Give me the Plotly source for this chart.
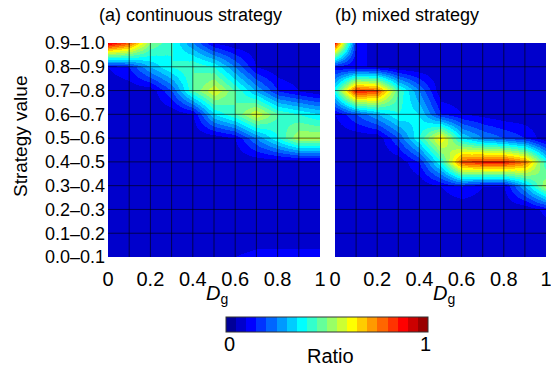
import plotly.graph_objects as go

# ---------------- data ----------------
dg = [0.0, 0.1, 0.2, 0.3, 0.4, 0.5, 0.6, 0.7, 0.8, 0.9, 1.0]
strategy_labels = ["0.0–0.1", "0.1–0.2", "0.2–0.3", "0.3–0.4", "0.4–0.5",
                   "0.5–0.6", "0.6–0.7", "0.7–0.8", "0.8–0.9", "0.9–1.0"]
x_tickvals = [0, 0.2, 0.4, 0.6, 0.8, 1.0]
x_ticktext = ["0", "0.2", "0.4", "0.6", "0.8", "1"]
cbar_ticks = [0, 1]
cbar_ticktext = ["0", "1"]

# rows: bottom (0.0–0.1) to top (0.9–1.0); columns: Dg = 0 ... 1
ratio_continuous = [
    [0.06, 0.06, 0.06, 0.06, 0.06, 0.07, 0.10, 0.12, 0.12, 0.12, 0.12],
    [0.06, 0.06, 0.06, 0.06, 0.06, 0.06, 0.06, 0.06, 0.06, 0.06, 0.06],
    [0.06, 0.06, 0.06, 0.06, 0.06, 0.06, 0.06, 0.06, 0.06, 0.06, 0.06],
    [0.06, 0.06, 0.06, 0.06, 0.06, 0.06, 0.06, 0.06, 0.06, 0.06, 0.06],
    [0.06, 0.06, 0.06, 0.06, 0.06, 0.06, 0.06, 0.06, 0.06, 0.06, 0.06],
    [0.06, 0.06, 0.06, 0.06, 0.06, 0.06, 0.10, 0.25, 0.40, 0.55, 0.55],
    [0.06, 0.06, 0.06, 0.06, 0.10, 0.35, 0.45, 0.60, 0.45, 0.40, 0.35],
    [0.06, 0.06, 0.06, 0.20, 0.45, 0.60, 0.45, 0.30, 0.15, 0.10, 0.06],
    [0.10, 0.15, 0.30, 0.40, 0.45, 0.40, 0.25, 0.10, 0.06, 0.06, 0.06],
    [0.90, 0.78, 0.50, 0.40, 0.25, 0.10, 0.06, 0.06, 0.06, 0.06, 0.06],
]
ratio_mixed = [
    [0.06, 0.06, 0.06, 0.06, 0.06, 0.06, 0.06, 0.06, 0.06, 0.06, 0.06],
    [0.06, 0.06, 0.06, 0.06, 0.06, 0.06, 0.06, 0.06, 0.06, 0.06, 0.06],
    [0.06, 0.06, 0.06, 0.06, 0.06, 0.06, 0.06, 0.06, 0.06, 0.06, 0.12],
    [0.06, 0.06, 0.06, 0.06, 0.06, 0.10, 0.15, 0.10, 0.10, 0.30, 0.55],
    [0.06, 0.06, 0.06, 0.06, 0.15, 0.40, 0.80, 0.85, 0.85, 0.75, 0.40],
    [0.06, 0.06, 0.06, 0.20, 0.40, 0.65, 0.35, 0.25, 0.20, 0.15, 0.06],
    [0.10, 0.20, 0.30, 0.40, 0.35, 0.15, 0.10, 0.08, 0.06, 0.06, 0.06],
    [0.40, 0.85, 0.80, 0.45, 0.25, 0.06, 0.06, 0.06, 0.06, 0.06, 0.06],
    [0.12, 0.10, 0.10, 0.06, 0.06, 0.06, 0.06, 0.06, 0.06, 0.06, 0.06],
    [0.85, 0.14, 0.06, 0.06, 0.06, 0.06, 0.06, 0.06, 0.06, 0.06, 0.06],
]

# ---------------- styling helpers ----------------
FONT = "Liberation Sans, Arial, sans-serif"
N_STEPS = 20


def jet(v):
    def clip(a):
        return max(0.0, min(1.0, a))
    r = clip(min(4 * v - 1.5, -4 * v + 4.5))
    g = clip(min(4 * v - 0.5, -4 * v + 3.5))
    b = clip(min(4 * v + 0.5, -4 * v + 2.5))
    return "rgb(%d,%d,%d)" % (round(r * 255), round(g * 255), round(b * 255))


colorscale = []
for i in range(N_STEPS):
    c = jet((i + 0.5) / N_STEPS)
    colorscale.append([i / N_STEPS, c])
    colorscale.append([(i + 1) / N_STEPS, c])

y_idx = list(range(len(strategy_labels)))

fig = go.Figure()
fig.add_trace(go.Heatmap(x=dg, y=y_idx, z=ratio_continuous, coloraxis="coloraxis",
                         zsmooth="best", xaxis="x", yaxis="y", hoverinfo="skip"))
fig.add_trace(go.Heatmap(x=dg, y=y_idx, z=ratio_mixed, coloraxis="coloraxis",
                         zsmooth="best", xaxis="x2", yaxis="y2", hoverinfo="skip"))

W, H = 551, 367
dom_a = [108 / W, 320 / W]
dom_b = [335 / W, 546 / W]
dom_y = [1 - 257 / H, 1 - 43 / H]
CB_LEFT, CB_RIGHT, CB_TOP = 226, 428, 317

xaxis_common = dict(range=[0, 1], tickvals=x_tickvals, ticktext=x_ticktext,
                    showgrid=False, zeroline=False, showline=False, ticks="",
                    ticklabelstandoff=8, automargin=False,
                    ticklabeloverflow="allow",
                    tickfont=dict(family=FONT, size=20, color="black"))
yaxis_common = dict(range=[0, len(strategy_labels) - 1], showgrid=False,
                    zeroline=False, showline=False, ticks="", domain=dom_y,
                    automargin=False)

fig.update_layout(
    width=W, height=H,
    margin=dict(l=0, r=0, t=0, b=0, pad=0, autoexpand=False),
    paper_bgcolor="white", plot_bgcolor="white",
    xaxis=dict(domain=dom_a, anchor="y", **xaxis_common),
    xaxis2=dict(domain=dom_b, anchor="y2", **xaxis_common),
    yaxis=dict(anchor="x", tickvals=y_idx, ticktext=strategy_labels,
               ticklabelstandoff=2, ticklabeloverflow="allow",
               tickfont=dict(family=FONT, size=18, color="black"),
               **yaxis_common),
    yaxis2=dict(anchor="x2", showticklabels=False, **yaxis_common),
    coloraxis=dict(
        colorscale=colorscale, cmin=cbar_ticks[0], cmax=cbar_ticks[-1],
        colorbar=dict(orientation="h", x=(CB_LEFT + CB_RIGHT) / 2 / W,
                      xanchor="center",
                      y=1 - CB_TOP / H, yanchor="top",
                      len=CB_RIGHT - CB_LEFT, lenmode="pixels", thickness=15,
                      thicknessmode="pixels", xpad=0, ypad=0,
                      outlinewidth=1, outlinecolor="#333333",
                      showticklabels=False, ticks=""),
    ),
    showlegend=False,
)

# grid lines through the data points
shapes = []
for xr, yr in (("x", "y"), ("x2", "y2")):
    for xv in dg[1:-1]:
        shapes.append(dict(type="line", xref=xr, yref=yr, x0=xv, x1=xv,
                           y0=y_idx[0], y1=y_idx[-1],
                           line=dict(color="rgba(0,0,0,0.6)", width=1)))
    for yv in y_idx[1:-1]:
        shapes.append(dict(type="line", xref=xr, yref=yr, x0=dg[0], x1=dg[-1],
                           y0=yv, y1=yv,
                           line=dict(color="rgba(0,0,0,0.6)", width=1)))
fig.update_layout(shapes=shapes)


def paper_text(text, px, py, size, **kw):
    d = dict(text=text, x=px / W, y=1 - py / H, xref="paper", yref="paper",
             xanchor="center", yanchor="middle", showarrow=False,
             font=dict(family=FONT, size=size, color="black"))
    d.update(kw)
    return d


annotations = [
    paper_text("(a) continuous strategy", 97, 15, 18, xanchor="left"),
    paper_text("(b) mixed strategy", 333, 15, 18, xanchor="left"),
    paper_text("Strategy value", 20, 137, 19, textangle=-90),
    paper_text("<i>D</i><sub>g</sub>", 217, 294, 20),
    paper_text("<i>D</i><sub>g</sub>", 444, 294, 20),
    paper_text("Ratio", 330, 356, 20),
]
for v, t in zip(cbar_ticks, cbar_ticktext):
    px = CB_LEFT + 3 + (CB_RIGHT - CB_LEFT - 6) * (v - cbar_ticks[0]) / (cbar_ticks[-1] - cbar_ticks[0])
    annotations.append(paper_text(t, px, 344, 20))
fig.update_layout(annotations=annotations)

fig.write_html("out.html")
